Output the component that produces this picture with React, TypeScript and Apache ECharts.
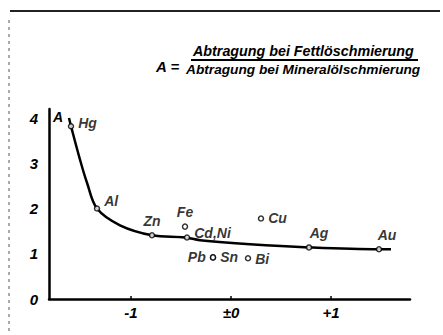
import React, { useEffect, useRef } from "react";
import * as echarts from "echarts";

// Curve
const curveX = [-1.62, -1.6, -1.51, -1.44, -1.34, -1.11, -0.79, -0.46, -0.31, 0.19, 0.78, 1.48, 1.6];
const curveY = [4.0, 3.82, 3.08, 2.57, 2.0, 1.63, 1.41, 1.36, 1.3, 1.21, 1.14, 1.1, 1.1];

// Measured metals
const metalNames = ["Hg", "Al", "Zn", "Fe", "Cd,Ni", "Pb", "Sn", "Bi", "Cu", "Ag", "Au"];
const metalX = [-1.6, -1.34, -0.79, -0.46, -0.44, -0.18, -0.18, 0.17, 0.3, 0.78, 1.48];
const metalY = [3.82, 2.0, 1.41, 1.6, 1.36, 0.92, 0.92, 0.9, 1.78, 1.14, 1.1];
const labelPos = ["right", "right", "top", "top", "right", "left", "right", "right", "right", "top", "top"];
const labelOffset = [[0, -3], [0, -8], [0, 0], [0, 0], [0, -4], [0, 0], [0, 0], [0, 1], [0, 0], [10, 0], [8, 0]];

const xTickValues = [-1, 0, 1];
const xTickLabels = ["-1", "±0", "+1"];
const yTickValues = [0, 1, 2, 3, 4];

const numerator = "Abtragung bei Fettlöschmierung";
const denominator = "Abtragung bei Mineralölschmierung";

const FONT = "Liberation Sans";

export default function App() {
  const ref = useRef<HTMLDivElement>(null);
  useEffect(() => {
    document.body.style.margin = "0";
    if (!ref.current) return;
    const chart = echarts.init(ref.current, null, { renderer: "svg" });
    const labelStyle = {
      color: "#000",
      fontFamily: FONT,
      fontWeight: "bold" as const,
      fontStyle: "italic" as const,
      fontSize: 15,
    };
    chart.setOption({
      animation: false,
      backgroundColor: "#fff",
      grid: { left: 49, right: 33, top: 109, bottom: 36 },
      xAxis: {
        type: "value",
        min: -1.82,
        max: 1.79,
        axisLine: { show: true, onZero: false, lineStyle: { color: "#000", width: 2.5 } },
        axisTick: { show: true, inside: true, length: 3, customValues: xTickValues, lineStyle: { color: "#000", width: 1.5 } },
        axisLabel: {
          ...labelStyle,
          margin: 6,
          customValues: xTickValues,
          formatter: (v: number) => xTickLabels[xTickValues.indexOf(Math.round(v))] ?? "",
        },
        splitLine: { show: false },
      },
      yAxis: {
        type: "value",
        min: 0,
        max: 4.2,
        axisLine: { show: true, onZero: false, lineStyle: { color: "#000", width: 2.5 } },
        axisTick: { show: false },
        axisLabel: { ...labelStyle, margin: 11, customValues: yTickValues },
        splitLine: { show: false },
      },
      series: [
        {
          type: "line",
          data: curveX.map((x, i) => [x, curveY[i]]),
          smooth: 0.35,
          showSymbol: false,
          symbol: "none",
          lineStyle: { color: "#000", width: 2.5 },
          z: 2,
        },
        {
          type: "scatter",
          symbol: "circle",
          symbolSize: 5,
          itemStyle: { color: "#fff", borderColor: "#000", borderWidth: 1.5 },
          z: 3,
          data: metalNames.map((n, i) => ({
            name: n,
            value: [metalX[i], metalY[i]],
            label: {
              show: true,
              position: labelPos[i],
              formatter: n,
              distance: 4,
              offset: labelOffset[i],
              ...labelStyle,
              fontSize: 14,
            },
          })),
        },
      ],
      graphic: [
        { type: "line", shape: { x1: 10, y1: 11, x2: 440, y2: 11 }, style: { stroke: "#222", lineWidth: 2 } },
        { type: "line", shape: { x1: 9, y1: 20, x2: 9, y2: 335 }, style: { stroke: "#555", lineWidth: 1, lineDash: [3, 4] } },
        { type: "text", left: 53, top: 110, style: { text: "A", fill: "#000", font: `italic bold 14px '${FONT}'` } },
        { type: "text", left: 156, top: 59, style: { text: "A =", fill: "#000", font: `italic bold 15px '${FONT}'` } },
        { type: "text", left: 193, top: 44, style: { text: numerator, fill: "#000", font: `italic bold 14.3px '${FONT}'` } },
        { type: "line", shape: { x1: 191, y1: 60, x2: 418, y2: 60 }, style: { stroke: "#000", lineWidth: 2 } },
        { type: "text", left: 186, top: 62, style: { text: denominator, fill: "#000", font: `italic bold 13.7px '${FONT}'` } },
      ],
    });
    return () => chart.dispose();
  }, []);
  return <div ref={ref} style={{ width: 443, height: 335 }} />;
}
